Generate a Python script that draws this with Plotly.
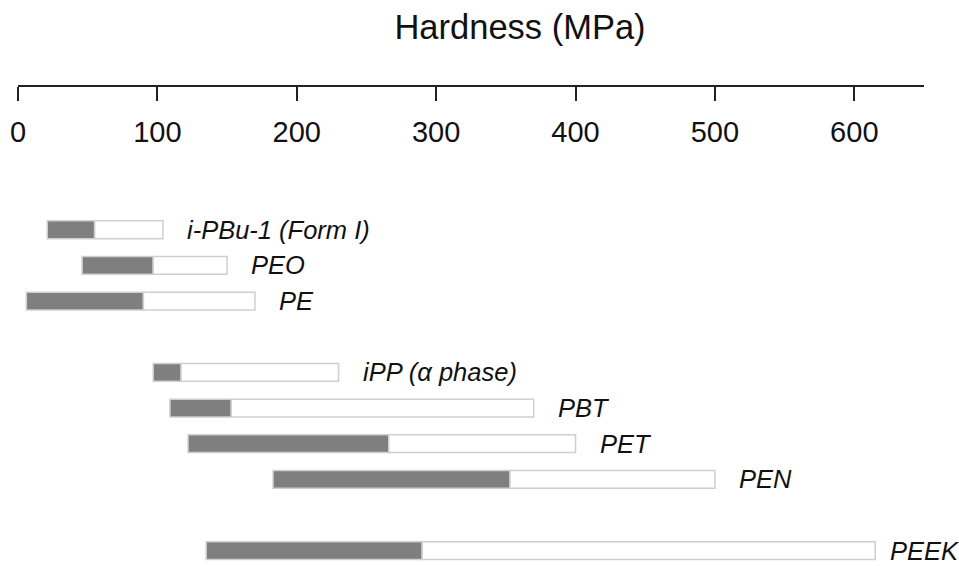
import plotly.graph_objects as go

# Hardness ranges (MPa) for semicrystalline polymers:
# lower bound, end of the dark (typical) segment, upper bound
polymers = ["i-PBu-1 (Form I)", "PEO", "PE", "iPP (\u03b1 phase)",
            "PBT", "PET", "PEN", "PEEK"]
h_min = [21, 46, 6, 97, 109, 122, 183, 135]
h_mid = [55, 97, 90, 117, 153, 266, 353, 290]
h_max = [104, 150, 170, 230, 370, 400, 500, 615]
tick_vals = [0, 100, 200, 300, 400, 500, 600]

# vertical slot of each row (blank slots separate the groups)
row_slot = [0, 1, 2, 4, 5, 6, 7, 9]

FONT = "Liberation Sans, Arial, sans-serif"
EDGE = "#cfcfcf"
AXIS_Y = 1 - 85 / 566  # paper position of the scale line

fig = go.Figure()
fig.add_trace(go.Bar(
    y=row_slot,
    x=[m - s for s, m in zip(h_min, h_mid)],
    base=h_min,
    orientation="h",
    width=0.5,
    marker=dict(color="#7f7f7f", line=dict(color=EDGE, width=1.5)),
    hoverinfo="skip",
))
fig.add_trace(go.Bar(
    y=row_slot,
    x=[e - m for m, e in zip(h_mid, h_max)],
    base=h_mid,
    orientation="h",
    width=0.5,
    marker=dict(color="white", line=dict(color=EDGE, width=1.5)),
    hoverinfo="skip",
))
# invisible trace that carries the scale axis drawn above the bars
fig.add_trace(go.Scatter(
    x=[0, 650], y=[0, 0], xaxis="x2", yaxis="y2",
    mode="markers", marker=dict(opacity=0), hoverinfo="skip",
))

for name, slot, end in zip(polymers, row_slot, h_max):
    fig.add_annotation(
        x=end, y=slot, text=name, showarrow=False,
        xanchor="left", yanchor="middle",
        xshift=13 if name == "PEEK" else 22,
        font=dict(family=FONT, size=25.5, color="#111111", style="italic"),
    )

fig.update_layout(
    width=959, height=566,
    margin=dict(l=18, r=35, t=0, b=0),
    paper_bgcolor="white", plot_bgcolor="white",
    barmode="overlay",
    showlegend=False,
    title=dict(
        text="Hardness (MPa)",
        xref="container", yref="container",
        x=520 / 959, y=1 - 27 / 566,
        xanchor="center", yanchor="middle",
        font=dict(family=FONT, size=34.5, color="#111111"),
    ),
    xaxis=dict(range=[0, 650], visible=False, showgrid=False, zeroline=False),
    yaxis=dict(
        domain=[0, AXIS_Y],
        range=[9.43, -4.06], visible=False,
        showgrid=False, zeroline=False,
    ),
    xaxis2=dict(
        anchor="y2", side="bottom", range=[0, 650],
        tickvals=tick_vals,
        ticks="outside", ticklen=14, tickwidth=2, tickcolor="#222222",
        ticklabelstandoff=6,
        tickfont=dict(family=FONT, size=29, color="#111111"),
        showline=True, linewidth=2, linecolor="#222222",
        showgrid=False, zeroline=False,
    ),
    yaxis2=dict(
        domain=[AXIS_Y, 1], range=[-1, 1], visible=False,
        showgrid=False, zeroline=False,
    ),
)

fig.write_html("out.html")
